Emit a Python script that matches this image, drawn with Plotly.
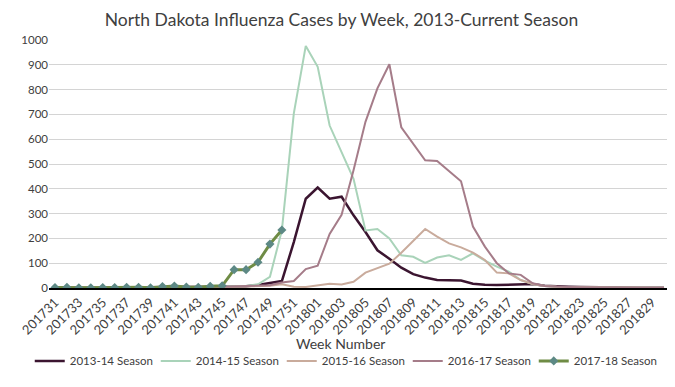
import plotly.graph_objects as go

weeks = ["201731","201732","201733","201734","201735","201736","201737","201738",
         "201739","201740","201741","201742","201743","201744","201745","201746",
         "201747","201748","201749","201750","201751","201752","201801","201802",
         "201803","201804","201805","201806","201807","201808","201809","201810",
         "201811","201812","201813","201814","201815","201816","201817","201818",
         "201819","201820","201821","201822","201823","201824","201825","201826",
         "201827","201828","201829","201830"]

s1314 = [2,1,2,1,2,2,3,2,3,3,4,3,4,4,5,6,7,12,20,28,185,360,405,360,368,293,
         226,152,118,82,56,42,32,31,30,17,13,12,13,14,16,9,6,5,4,3,3,2,2,1,1,1]
s1415 = [1,1,1,2,1,2,2,2,3,3,3,4,4,5,6,7,8,15,45,233,704,976,892,655,545,440,
         232,238,200,132,126,101,123,132,113,140,110,86,66,32,16,8,5,4,3,3,2,2,2,1,1,1]
s1516 = [1,1,1,1,1,1,2,2,2,2,3,3,3,4,4,5,6,7,9,15,5,4,11,17,14,25,
         62,80,98,142,190,238,207,180,164,143,113,62,59,32,16,8,5,4,3,3,2,2,2,2,1,1]
s1617 = [1,1,1,1,1,2,2,2,2,3,3,3,4,4,5,6,7,8,11,22,28,76,90,218,295,475,
         670,805,902,648,580,515,512,470,430,248,167,100,59,53,19,8,5,4,3,3,2,2,2,1,1,1]
s1718 = [2,3,1,1,2,2,3,3,1,6,8,4,3,7,9,74,74,104,177,234]

tick_labels = weeks[::2]

FONT = "Lato"
TXT = "#404040"

fig = go.Figure()
series = [
    ("2013-14 Season", s1314, "#3b1530", 2.5),
    ("2014-15 Season", s1415, "#a9d3b9", 2),
    ("2015-16 Season", s1516, "#c9ab9c", 2),
    ("2016-17 Season", s1617, "#a57c89", 2),
]
for name, vals, col, w in series:
    fig.add_trace(go.Scatter(x=weeks[:len(vals)], y=vals, mode="lines", name=name,
                             line=dict(color=col, width=w)))
fig.add_trace(go.Scatter(x=weeks[:len(s1718)], y=s1718, mode="lines+markers",
                         name="2017-18 Season",
                         line=dict(color="#6f8c45", width=3),
                         marker=dict(symbol="diamond", size=7, color="#5d8985")))

fig.update_layout(
    width=667, height=379,
    margin=dict(l=41, r=5, t=32, b=99, autoexpand=False),
    paper_bgcolor="white", plot_bgcolor="white",
    font=dict(family=FONT, color=TXT),
    title=dict(text="North Dakota Influenza Cases by Week, 2013-Current Season",
               x=0.5, xanchor="center", y=0.968, yanchor="middle",
               font=dict(size=17.5, color=TXT, family=FONT)),
    showlegend=True,
    legend=dict(orientation="h", x=-0.031, xanchor="left", y=-0.294, yanchor="middle",
                font=dict(size=11.5, color=TXT, family=FONT), itemwidth=30,
                entrywidth=81, entrywidthmode="pixels",
                tracegroupgap=0),
    annotations=[dict(text="Week Number", xref="paper", yref="paper", x=0.47, y=-0.222,
                      xanchor="center", yanchor="middle", showarrow=False,
                      font=dict(size=14, color=TXT, family=FONT))],
)
fig.update_xaxes(type="category", categoryorder="array", categoryarray=weeks,
                 range=[-0.5, 51.5], tickmode="array", tickvals=tick_labels,
                 ticktext=tick_labels, tickangle=-45, automargin=False,
                 tickfont=dict(size=13, color=TXT, family=FONT),
                 showgrid=False, showline=True, linecolor="black", linewidth=1.5,
                 ticks="", zeroline=False)
fig.update_yaxes(range=[0, 1000], dtick=100, showgrid=True, gridcolor="#d4d4d4",
                 gridwidth=1, zeroline=False, showline=False, ticks="", automargin=False,
                 tickfont=dict(size=11.5, color=TXT, family=FONT))

fig.write_html("out.html")
